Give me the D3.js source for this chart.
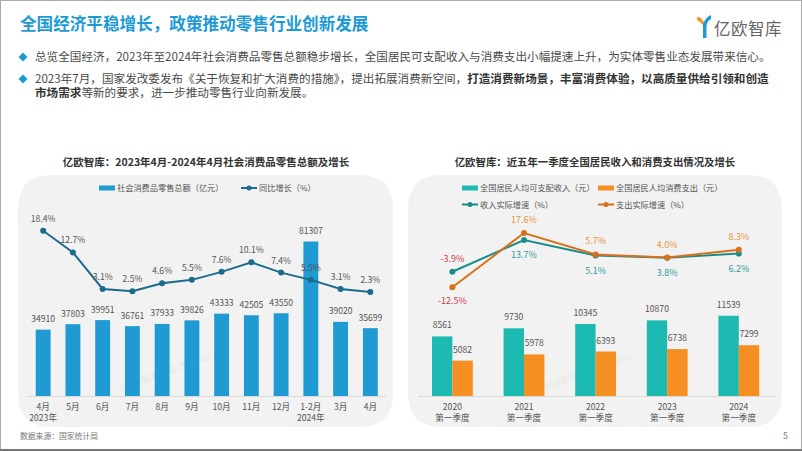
<!DOCTYPE html>
<html><head><meta charset="utf-8">
<script src="https://cdn.jsdelivr.net/npm/d3@7/dist/d3.min.js"></script>
<style>
html,body{margin:0;padding:0;background:#fff;}
svg{display:block;font-family:"Noto Sans CJK SC","Noto Sans",sans-serif;}
</style></head>
<body>
<svg id="c" width="802" height="451"></svg>
<script>
// ---- data ----
const months = ["4月","5月","6月","7月","8月","9月","10月","11月","12月","1-2月","3月","4月"];
const monthSub = ["2023年","","","","","","","","","2024年","",""];
const retailSales = [34910,37803,39951,36761,37933,39826,43333,42505,43550,81307,39020,35699];
const retailGrowth = [18.4,12.7,3.1,2.5,4.6,5.5,7.6,10.1,7.4,5.5,3.1,2.3];

const years = ["2020","2021","2022","2023","2024"];
const yearSub = "第一季度";
const income = [8561,9730,10345,10870,11539];
const expense = [5082,5978,6393,6738,7299];
const incomeGrowth = [-3.9,13.7,5.1,3.8,6.2];
const expenseGrowth = [-12.5,17.6,5.7,4.0,8.3];

const svg = d3.select("#c");
const C = {blue:"#1f9ad2", lineBlue:"#1b6c8c", teal:"#1dbab2", orange:"#f58f22",
  tealLine:"#1a8d88", orangeLine:"#d9711c", txt:"#555", red:"#cf3a4a",
  tealTxt:"#2e9b97", orangeTxt:"#e8953a"};

// page border
svg.append("rect").attr("x",0.5).attr("y",0.5).attr("width",801).attr("height",449)
  .attr("fill","none").attr("stroke","#aaa");
svg.append("line").attr("x1",0).attr("x2",802).attr("y1",450).attr("y2",450)
  .attr("stroke","#777").attr("stroke-width",2);

// title
svg.append("text").attr("x",20).attr("y",30).attr("font-size",16.6).attr("font-weight",700)
  .attr("fill","#1d9ad6").text("全国经济平稳增长，政策推动零售行业创新发展");

// logo
const lg = svg.append("g");
lg.append("path").attr("d","M697,17 Q700,16 704,22 L704,26 Q700,22 697,20 Z").attr("fill","#f39a2b");
lg.append("path").attr("d","M703,38 L703,24 Q706,17 711,15 L711,19 Q707,21 706.5,26 L706.5,38 Z").attr("fill","#1f9ad2");
svg.append("text").attr("x",714).attr("y",35).attr("font-size",16.5).attr("fill","#666")
  .attr("letter-spacing",0.5).text("亿欧智库");

// bullets
function diamond(x,y){svg.append("path").attr("d",`M${x},${y-4.5}L${x+4.5},${y}L${x},${y+4.5}L${x-4.5},${y}Z`).attr("fill","#1d9ad6");}
diamond(23,57); diamond(23,79);
svg.append("text").attr("x",35).attr("y",61).attr("font-size",11.6).attr("fill","#4a4a4a")
  .text("总览全国经济，2023年至2024年社会消费品零售总额稳步增长，全国居民可支配收入与消费支出小幅提速上升，为实体零售业态发展带来信心。");
const t2 = svg.append("text").attr("x",35).attr("y",83).attr("font-size",11.6).attr("fill","#4a4a4a");
t2.append("tspan").text("2023年7月，国家发改委发布《关于恢复和扩大消费的措施》，提出拓展消费新空间，");
t2.append("tspan").attr("font-weight",700).attr("fill","#333").text("打造消费新场景，丰富消费体验，以高质量供给引领和创造");
const t3 = svg.append("text").attr("x",35).attr("y",97).attr("font-size",11.6).attr("fill","#4a4a4a");
t3.append("tspan").attr("font-weight",700).attr("fill","#333").text("市场需求");
t3.append("tspan").text("等新的要求，进一步推动零售行业向新发展。");

// panels
function panel(x0,x1){
  const y0=175,y1=427,r=34;
  svg.append("path").attr("d",
    `M${x0+r},${y0}L${x1-r},${y0}Q${x1},${y0} ${x1},${y0+r}L${x1},${y1-r}Q${x1},${y1} ${x1-r},${y1}L${x0+r},${y1}Q${x0},${y1} ${x0},${y1-r}L${x0},${y0+r}Q${x0},${y0} ${x0+r},${y0}Z`)
    .attr("fill","#f2f2f2");
}
panel(18,393); panel(408,782);

// faint watermarks (kept clear of other texts)
const wm = [[120,392],[540,392]];
wm.forEach(([x,y])=>{
  svg.append("text").attr("transform",`translate(${x},${y}) rotate(-20)`).attr("font-size",8.5)
    .attr("fill","#000").attr("opacity",0.05).text("©亿欧智库-林安 (398865)");
});

// chart titles
svg.append("text").attr("x",206).attr("y",166).attr("text-anchor","middle").attr("font-size",10.5)
  .attr("font-weight",700).attr("fill","#333").text("亿欧智库：2023年4月-2024年4月社会消费品零售总额及增长");
svg.append("text").attr("x",595).attr("y",166).attr("text-anchor","middle").attr("font-size",10.4)
  .attr("font-weight",700).attr("fill","#333").text("亿欧智库：近五年一季度全国居民收入和消费支出情况及增长");

const fs = 8.6;
// ---------- left chart ----------
const xL = d3.scaleBand().domain(d3.range(months.length)).range([28.3,385.2]).paddingInner(0.5).paddingOuter(0.25);
const yLb = d3.scaleLinear().domain([0,90000]).range([396,225]);
const yLl = d3.scaleLinear().domain([0,20]).range([300.8,224.6]);
const gL = svg.append("g");
gL.append("line").attr("x1",28).attr("x2",386).attr("y1",396.5).attr("y2",396.5).attr("stroke","#d9d9d9");
gL.selectAll("rect.b").data(retailSales).join("rect")
  .attr("x",(d,i)=>xL(i)).attr("width",xL.bandwidth()).attr("y",d=>yLb(d)).attr("height",d=>396-yLb(d)).attr("fill",C.blue);
gL.selectAll("text.bv").data(retailSales).join("text")
  .attr("x",(d,i)=>xL(i)+xL.bandwidth()/2).attr("y",d=>yLb(d)-7.5).attr("text-anchor","middle")
  .attr("font-size",fs).attr("fill",C.txt).text(d=>d);
const cx = i=>xL(i)+xL.bandwidth()/2;
gL.append("path").datum(retailGrowth).attr("fill","none").attr("stroke",C.lineBlue).attr("stroke-width",2)
  .attr("d",d3.line().x((d,i)=>cx(i)).y(d=>yLl(d)));
gL.selectAll("circle").data(retailGrowth).join("circle").attr("cx",(d,i)=>cx(i)).attr("cy",d=>yLl(d)).attr("r",3).attr("fill",C.lineBlue);
gL.selectAll("text.lv").data(retailGrowth).join("text")
  .attr("x",(d,i)=>cx(i)).attr("y",d=>yLl(d)-9).attr("text-anchor","middle")
  .attr("font-size",fs).attr("fill",C.txt).text(d=>d.toFixed(1)+"%");
gL.selectAll("text.xl").data(months).join("text")
  .attr("x",(d,i)=>cx(i)).attr("y",409.5).attr("text-anchor","middle").attr("font-size",fs).attr("fill",C.txt).text(d=>d);
gL.selectAll("text.xs").data(monthSub).join("text")
  .attr("x",(d,i)=>cx(i)).attr("y",420.5).attr("text-anchor","middle").attr("font-size",fs).attr("fill",C.txt).text(d=>d);
// legend
svg.append("rect").attr("x",99).attr("y",185.5).attr("width",16).attr("height",5).attr("fill",C.blue);
svg.append("text").attr("x",117).attr("y",191).attr("font-size",8.2).attr("fill",C.txt).text("社会消费品零售总额（亿元）");
svg.append("line").attr("x1",241).attr("x2",257).attr("y1",188).attr("y2",188).attr("stroke",C.lineBlue).attr("stroke-width",2);
svg.append("circle").attr("cx",249).attr("cy",188).attr("r",2.5).attr("fill",C.lineBlue);
svg.append("text").attr("x",259).attr("y",191).attr("font-size",8.2).attr("fill",C.txt).text("同比增长（%）");

// ---------- right chart ----------
const xR = d3.scaleBand().domain(d3.range(years.length)).range([416.6,774.6]).paddingInner(0.43).paddingOuter(0.215);
const yRb = d3.scaleLinear().domain([0,14000]).range([396,298.6]);
const yRl = d3.scaleLinear().domain([-15,20]).range([291.7,228.7]);
const gR = svg.append("g");
gR.append("line").attr("x1",418).attr("x2",775).attr("y1",396.5).attr("y2",396.5).attr("stroke","#d9d9d9");
const bw = xR.bandwidth()/2;
const rc = i=>xR(i)+bw;
gR.selectAll("rect.i").data(income).join("rect")
  .attr("x",(d,i)=>xR(i)).attr("width",bw).attr("y",d=>yRb(d)).attr("height",d=>396-yRb(d)).attr("fill",C.teal);
gR.selectAll("rect.e").data(expense).join("rect").attr("class","e")
  .attr("x",(d,i)=>xR(i)+bw).attr("width",bw).attr("y",d=>yRb(d)).attr("height",d=>396-yRb(d)).attr("fill",C.orange);
gR.selectAll("text.iv").data(income).join("text")
  .attr("x",(d,i)=>xR(i)+bw/2).attr("y",d=>yRb(d)-8).attr("text-anchor","middle").attr("font-size",fs).attr("fill",C.txt).text(d=>d);
gR.selectAll("text.ev").data(expense).join("text")
  .attr("x",(d,i)=>xR(i)+bw*1.5).attr("y",d=>yRb(d)-8).attr("text-anchor","middle").attr("font-size",fs).attr("fill",C.txt).text(d=>d);
const ln = d3.line().x((d,i)=>rc(i)).y(d=>yRl(d));
gR.append("path").datum(incomeGrowth).attr("fill","none").attr("stroke",C.tealLine).attr("stroke-width",2).attr("d",ln);
gR.append("path").datum(expenseGrowth).attr("fill","none").attr("stroke",C.orangeLine).attr("stroke-width",2).attr("d",ln);
gR.selectAll("circle.ig").data(incomeGrowth).join("circle").attr("cx",(d,i)=>rc(i)).attr("cy",d=>yRl(d)).attr("r",3).attr("fill",C.tealLine);
gR.selectAll("circle.eg").data(expenseGrowth).join("circle").attr("class","eg").attr("cx",(d,i)=>rc(i)).attr("cy",d=>yRl(d)).attr("r",3).attr("fill",C.orangeLine);
gR.selectAll("text.il").data(incomeGrowth).join("text")
  .attr("x",(d,i)=>rc(i)).attr("y",(d,i)=>i===0?yRl(d)-9.5:yRl(d)+18)
  .attr("text-anchor","middle").attr("font-size",fs+0.4).attr("fill",d=>d<0?C.red:C.tealTxt).text(d=>d.toFixed(1)+"%");
gR.selectAll("text.el").data(expenseGrowth).join("text")
  .attr("x",(d,i)=>rc(i)).attr("y",(d,i)=>i===0?yRl(d)+17:yRl(d)-10)
  .attr("text-anchor","middle").attr("font-size",fs+0.4).attr("fill",d=>d<0?C.red:C.orangeTxt).text(d=>d.toFixed(1)+"%");
gR.selectAll("text.xl").data(years).join("text")
  .attr("x",(d,i)=>rc(i)).attr("y",409.5).attr("text-anchor","middle").attr("font-size",fs).attr("fill",C.txt).text(d=>d);
gR.selectAll("text.xs").data(years).join("text").attr("class","xs")
  .attr("x",(d,i)=>rc(i)).attr("y",420.5).attr("text-anchor","middle").attr("font-size",fs).attr("fill",C.txt).text(yearSub);
// legend
svg.append("rect").attr("x",462).attr("y",185.5).attr("width",16).attr("height",5).attr("fill",C.teal);
svg.append("text").attr("x",480).attr("y",191).attr("font-size",8.2).attr("fill",C.txt).text("全国居民人均可支配收入（元）");
svg.append("rect").attr("x",598).attr("y",185.5).attr("width",16).attr("height",5).attr("fill",C.orange);
svg.append("text").attr("x",616).attr("y",191).attr("font-size",8.2).attr("fill",C.txt).text("全国居民人均消费支出（元）");
svg.append("line").attr("x1",462).attr("x2",478).attr("y1",204.5).attr("y2",204.5).attr("stroke",C.tealLine).attr("stroke-width",2);
svg.append("circle").attr("cx",470).attr("cy",204.5).attr("r",2.5).attr("fill",C.tealLine);
svg.append("text").attr("x",480).attr("y",207.5).attr("font-size",8.2).attr("fill",C.txt).text("收入实际增速（%）");
svg.append("line").attr("x1",598).attr("x2",614).attr("y1",204.5).attr("y2",204.5).attr("stroke",C.orangeLine).attr("stroke-width",2);
svg.append("circle").attr("cx",606).attr("cy",204.5).attr("r",2.5).attr("fill",C.orangeLine);
svg.append("text").attr("x",616).attr("y",207.5).attr("font-size",8.2).attr("fill",C.txt).text("支出实际增速（%）");

// footer
svg.append("text").attr("x",20).attr("y",438.5).attr("font-size",7.8).attr("fill","#777").text("数据来源：国家统计局");
svg.append("text").attr("x",783).attr("y",439).attr("font-size",8.5).attr("fill","#777").text("5");
</script>
</body></html>
